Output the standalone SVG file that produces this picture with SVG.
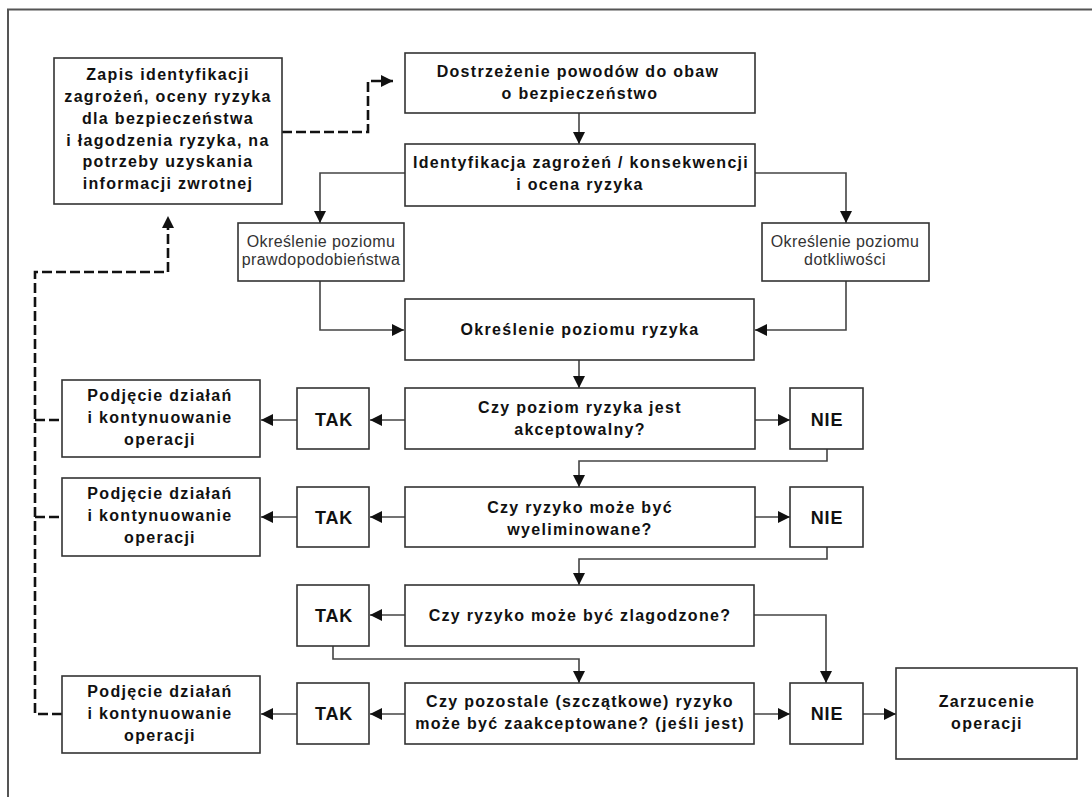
<svg xmlns="http://www.w3.org/2000/svg" width="1092" height="797" viewBox="0 0 1092 797">
<defs>
<style>
.box{fill:#fff;stroke:#333;stroke-width:1.6}
.t{font-family:"Liberation Sans",Arial,sans-serif;font-weight:bold;font-size:16px;letter-spacing:1.3px;fill:#111;text-anchor:middle}
.tl{font-family:"Liberation Sans",Arial,sans-serif;font-weight:normal;font-size:16px;letter-spacing:0.4px;fill:#333;text-anchor:middle}
.tb{font-family:"Liberation Sans",Arial,sans-serif;font-weight:bold;font-size:18px;letter-spacing:0.8px;fill:#111;text-anchor:middle}
.c{fill:none;stroke:#444;stroke-width:1.6}
.d{fill:none;stroke:#111;stroke-width:2.6;stroke-dasharray:10,4}
.f{fill:none;stroke:#555;stroke-width:2}
</style>
<marker id="a" markerUnits="userSpaceOnUse" markerWidth="12" markerHeight="12" refX="12" refY="6" orient="auto">
<path d="M0,0 L12,6 L0,12 z" fill="#111"/>
</marker>
</defs>
<rect width="1092" height="797" fill="#fff"/>
<g id="frame">
<path class="f" d="M8,797 V9.5 H1092"/>
</g>
<g id="connectors">
<path class="d" d="M282,132 H368 V81 H393" marker-end="url(#a)"/>
<path class="d" d="M62,714 H35 V272 H168 V216" marker-end="url(#a)"/>
<path class="d" d="M35,420 H62 M35,517 H62"/>
<path class="c" d="M579,113 V144" marker-end="url(#a)"/>
<path class="c" d="M405,173 H320 V223" marker-end="url(#a)"/>
<path class="c" d="M754,173 H846 V223" marker-end="url(#a)"/>
<path class="c" d="M320,281 V330 H404" marker-end="url(#a)"/>
<path class="c" d="M846,281 V330 H755" marker-end="url(#a)"/>
<path class="c" d="M579,360 V388" marker-end="url(#a)"/>
<path class="c" d="M405,420 H370" marker-end="url(#a)"/>
<path class="c" d="M297,420 H261" marker-end="url(#a)"/>
<path class="c" d="M755,420 H790" marker-end="url(#a)"/>
<path class="c" d="M827,449 V461 H579 V487" marker-end="url(#a)"/>
<path class="c" d="M405,517 H370" marker-end="url(#a)"/>
<path class="c" d="M297,517 H261" marker-end="url(#a)"/>
<path class="c" d="M755,517 H790" marker-end="url(#a)"/>
<path class="c" d="M827,547 V559 H579 V585" marker-end="url(#a)"/>
<path class="c" d="M405,615 H370" marker-end="url(#a)"/>
<path class="c" d="M333,646 V659 H579 V683" marker-end="url(#a)"/>
<path class="c" d="M754,615 H826 V683" marker-end="url(#a)"/>
<path class="c" d="M405,714 H370" marker-end="url(#a)"/>
<path class="c" d="M297,714 H261" marker-end="url(#a)"/>
<path class="c" d="M754,714 H790" marker-end="url(#a)"/>
<path class="c" d="M863,714 H896" marker-end="url(#a)"/>
</g>
<g id="zapis">
<rect class="box" x="54" y="58" width="228" height="146"/>
<text class="t" x="168" y="80">Zapis identyfikacji</text>
<text class="t" x="168" y="102">zagrożeń, oceny ryzyka</text>
<text class="t" x="168" y="124">dla bezpieczeństwa</text>
<text class="t" x="168" y="146">i łagodzenia ryzyka, na</text>
<text class="t" x="168" y="167">potrzeby uzyskania</text>
<text class="t" x="168" y="189">informacji zwrotnej</text>
</g>
<g id="dostrzezenie">
<rect class="box" x="405" y="53" width="350" height="60"/>
<text class="t" x="578" y="77">Dostrzeżenie powodów do obaw</text>
<text class="t" x="580" y="99">o bezpieczeństwo</text>
</g>
<g id="identyfikacja">
<rect class="box" x="405" y="144" width="350" height="62"/>
<text class="t" x="581" y="168">Identyfikacja zagrożeń / konsekwencji</text>
<text class="t" x="580" y="190">i ocena ryzyka</text>
</g>
<g id="prawdopodobienstwo">
<rect class="box" x="238" y="223" width="166" height="58"/>
<text class="tl" x="321" y="247">Określenie poziomu</text>
<text class="tl" x="321" y="265">prawdopodobieństwa</text>
</g>
<g id="dotkliwosc">
<rect class="box" x="762" y="223" width="167" height="58"/>
<text class="tl" x="845" y="247">Określenie poziomu</text>
<text class="tl" x="845" y="265">dotkliwości</text>
</g>
<g id="ryzyko">
<rect class="box" x="405" y="299" width="349" height="61"/>
<text class="t" x="580" y="335">Określenie poziomu ryzyka</text>
</g>
<g id="czy1">
<rect class="box" x="405" y="388" width="350" height="61"/>
<text class="t" x="580" y="413">Czy poziom ryzyka jest</text>
<text class="t" x="580" y="435">akceptowalny?</text>
</g>
<g id="tak1">
<rect class="box" x="297" y="388" width="72" height="61"/>
<text class="tb" x="334" y="426">TAK</text>
</g>
<g id="podjecie1">
<rect class="box" x="62" y="380" width="198" height="77"/>
<text class="t" x="160" y="401">Podjęcie działań</text>
<text class="t" x="160" y="423">i kontynuowanie</text>
<text class="t" x="160" y="445">operacji</text>
</g>
<g id="nie1">
<rect class="box" x="790" y="388" width="73" height="61"/>
<text class="tb" x="827" y="426">NIE</text>
</g>
<g id="czy2">
<rect class="box" x="405" y="487" width="350" height="60"/>
<text class="t" x="580" y="513">Czy ryzyko może być</text>
<text class="t" x="580" y="535">wyeliminowane?</text>
</g>
<g id="tak2">
<rect class="box" x="297" y="487" width="72" height="60"/>
<text class="tb" x="334" y="524">TAK</text>
</g>
<g id="podjecie2">
<rect class="box" x="62" y="478" width="198" height="78"/>
<text class="t" x="160" y="499">Podjęcie działań</text>
<text class="t" x="160" y="521">i kontynuowanie</text>
<text class="t" x="160" y="543">operacji</text>
</g>
<g id="nie2">
<rect class="box" x="790" y="487" width="73" height="60"/>
<text class="tb" x="827" y="524">NIE</text>
</g>
<g id="czy3">
<rect class="box" x="405" y="585" width="349" height="61"/>
<text class="t" x="580" y="621">Czy ryzyko może być zlagodzone?</text>
</g>
<g id="tak3">
<rect class="box" x="297" y="585" width="72" height="61"/>
<text class="tb" x="334" y="622">TAK</text>
</g>
<g id="czy4">
<rect class="box" x="405" y="683" width="349" height="61"/>
<text class="t" x="580" y="707">Czy pozostale (szczątkowe) ryzyko</text>
<text class="t" x="580" y="729">może być zaakceptowane? (jeśli jest)</text>
</g>
<g id="tak4">
<rect class="box" x="297" y="683" width="72" height="61"/>
<text class="tb" x="334" y="720">TAK</text>
</g>
<g id="podjecie3">
<rect class="box" x="62" y="676" width="198" height="77"/>
<text class="t" x="160" y="697">Podjęcie działań</text>
<text class="t" x="160" y="719">i kontynuowanie</text>
<text class="t" x="160" y="741">operacji</text>
</g>
<g id="nie3">
<rect class="box" x="790" y="683" width="73" height="61"/>
<text class="tb" x="827" y="720">NIE</text>
</g>
<g id="zarzucenie">
<rect class="box" x="896" y="668" width="181" height="91"/>
<text class="t" x="987" y="707">Zarzucenie</text>
<text class="t" x="987" y="729">operacji</text>
</g>
</svg>
